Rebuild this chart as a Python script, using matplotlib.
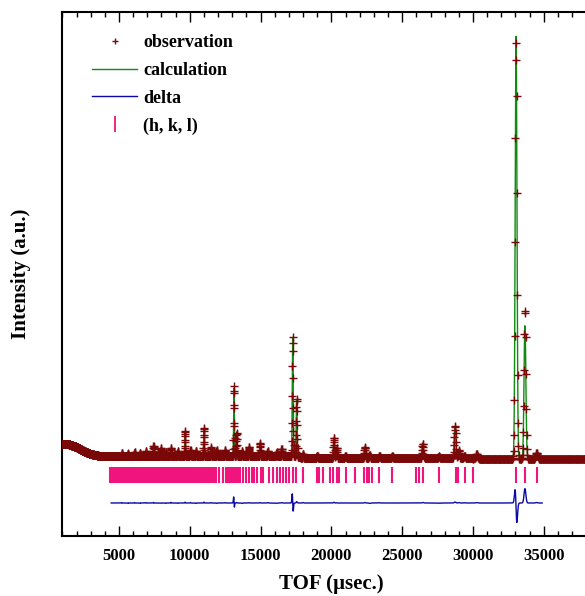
import numpy as np
import matplotlib
matplotlib.use('Agg')
import matplotlib.pyplot as plt
from matplotlib.lines import Line2D
from matplotlib.ticker import MultipleLocator

plt.rcParams['font.family'] = ['Liberation Serif', 'DejaVu Serif']
plt.rcParams['font.weight'] = 'bold'

# background level (TOF in usec, counts)
bg_tof = [1000, 1500, 2000, 2500, 3000, 3500, 4500, 10000, 17500, 18000, 30000, 36000, 38970]
bg_cnt = [836, 824, 764, 668, 596, 560, 548, 560, 536, 500, 488, 476, 476]

# Bragg peaks: position, observed height, calculated height
peak_pos = [5200, 5650, 6100, 6500, 6900, 7440, 7970, 8300, 8670, 9150,
            9660, 10050, 10450, 11000, 11500, 11900, 12500, 13120, 13310, 13700,
            14180, 14960, 15500, 16130, 16490, 17265, 17550, 18000, 19000, 20180,
            20370, 21000, 22370, 22700, 23400, 24300, 26450, 27600, 28730, 29000,
            29400, 30260, 33040, 33670, 34500]
obs_amp = [70, 60, 90, 70, 110, 240, 185, 90, 185, 110,
           600, 140, 120, 672, 200, 150, 140, 1680, 552, 120,
           223, 320, 120, 103, 185, 2880, 1392, 100, 60, 497,
           240, 60, 271, 80, 60, 50, 353, 50, 792, 200,
           70, 120, 10032, 3600, 151]
calc_amp = [60, 70, 80, 80, 100, 225, 190, 100, 170, 120,
            580, 130, 130, 650, 190, 160, 130, 1640, 540, 130,
            215, 310, 110, 110, 175, 2860, 1360, 90, 60, 480,
            235, 55, 260, 90, 55, 50, 340, 55, 770, 190,
            65, 110, 10150, 3250, 140]
calc_shift = {13120: 3, 17265: 4, 33040: 4}
rel_width = 0.0019

# reflection positions (h, k, l)
hkl = [4350, 4430, 4500, 4570, 4640, 4720, 4790, 4860, 4930, 5010, 5080, 5150, 5220,
       5300, 5370, 5440, 5510, 5590, 5660, 5730, 5800, 5880, 5950, 6020, 6090, 6170,
       6240, 6310, 6380, 6460, 6530, 6600, 6670, 6750, 6820, 6890, 6960, 7040, 7110,
       7180, 7250, 7330, 7400, 7470, 7540, 7620, 7690, 7760, 7830, 7910, 7980, 8050,
       8120, 8200, 8270, 8340, 8410, 8490, 8560, 8630, 8700, 8780, 8850, 8920, 8990,
       9070, 9140, 9210, 9280, 9360, 9430, 9500, 9570, 9650, 9720, 9790, 9860, 9940,
       10010, 10080, 10150, 10330, 10400, 10470, 10550, 10620, 10690, 10760, 10840,
       10910, 10980, 11050, 11130, 11200, 11270, 11340, 11420, 11490, 11560, 11630,
       11710, 11780, 11850, 12085, 12370, 12530, 12720, 12800, 12880, 12960, 13040,
       13120, 13200, 13280, 13360, 13440, 13545, 13780, 13970, 14160, 14370, 14535,
       14770, 15005, 15150, 15620, 15900, 16140, 16370, 16560, 16795, 17030, 17265,
       17500, 18015, 18960, 19150, 19430, 19900, 20135, 20370, 20560, 21030, 21700,
       22330, 22510, 22690, 22870, 23380, 24260, 25990, 26180, 26490, 27620, 28800,
       28960, 29435, 29980, 33040, 33670, 34500]

calc_range = (4450, 34900)
delta_offset = -580
hkl_span = (-100, 284)


def profile(t, pos, amp, shift):
    y = np.interp(t, bg_tof, bg_cnt)
    for p, a in zip(pos, amp):
        c = p + shift.get(p, 0)
        y = y + a * np.exp(-0.5 * ((t - c) / (rel_width * c)) ** 2)
    return y


tof = np.geomspace(bg_tof[0], bg_tof[-1], 4600)
obs = profile(tof, peak_pos, obs_amp, {})
calc = profile(tof, peak_pos, calc_amp, calc_shift)
m = (tof >= calc_range[0]) & (tof <= calc_range[1])

fig = plt.figure(figsize=(5.85, 5.96), dpi=100)
ax = fig.add_axes([62 / 585, 60 / 596, 538 / 585, 524 / 596])

ax.plot(tof[m], calc[m], color='#108a10', lw=1.0, zorder=2)
ax.plot(tof, obs, ls='none', marker='+', ms=5.5, mew=1.0, color='#7a0808', zorder=3)
ax.plot(tof[m], obs[m] - calc[m] + delta_offset, color='#0a0aa0', lw=1.0, zorder=2)
ax.vlines(hkl, hkl_span[0], hkl_span[1], color='#f0147d', lw=1.5, zorder=2)

ax.set_xlim(975, 38970)
ax.set_ylim(-1372, 11204)
ax.xaxis.set_major_locator(MultipleLocator(5000))
ax.xaxis.set_minor_locator(MultipleLocator(1000))
ax.tick_params(axis='x', which='both', direction='in', top=True, bottom=True,
               labelsize=12, width=1.0, pad=9)
ax.tick_params(axis='x', which='major', length=7)
ax.tick_params(axis='x', which='minor', length=3.5)
ax.tick_params(axis='y', left=False, right=False, labelleft=False)
for s in ax.spines.values():
    s.set_linewidth(1.5)

ax.set_xlabel('TOF (\u00b5sec.)', fontsize=15, fontweight='bold', labelpad=7)
ax.set_ylabel('Intensity (a.u.)', fontsize=15, fontweight='bold', labelpad=22)

handles = [
    Line2D([], [], ls='none', marker='+', ms=5, mew=1.0, color='#7a0808'),
    Line2D([], [], color='#108a10', lw=1.0),
    Line2D([], [], color='#0a0aa0', lw=1.0),
    Line2D([], [], ls='none', marker='|', ms=12, mew=1.3, color='#f0147d'),
]
labels = ['observation', 'calculation', 'delta', '(h, k, l)']
ax.legend(handles, labels, loc='upper left', bbox_to_anchor=(30 / 538, 1 - 22 / 524),
          frameon=False, borderpad=0, borderaxespad=0, handlelength=2.5,
          handletextpad=0.35, labelspacing=0.6, prop={'size': 13, 'weight': 'bold'})

fig.savefig('out.png', dpi=100)
